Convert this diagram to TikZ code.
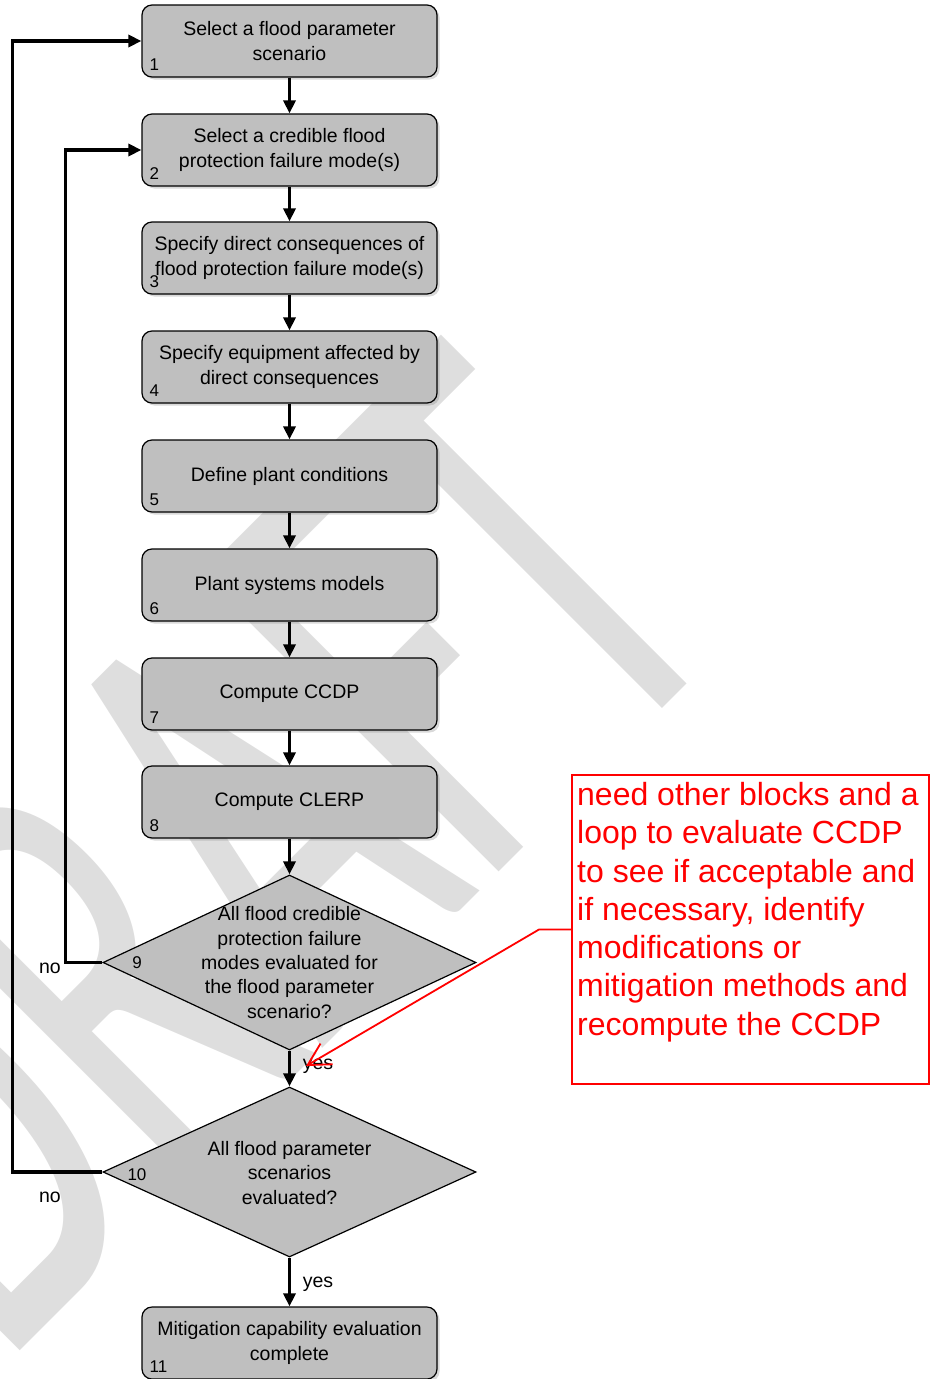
\documentclass[tikz,border=0pt]{standalone}
\usepackage{fontspec}
\setmainfont{Liberation Sans}
\newfontfamily\wmfont{Carlito}
\usetikzlibrary{arrows.meta,shapes.geometric,shadows,calc}
\definecolor{boxgray}{RGB}{191,191,191}
\definecolor{wmgray}{RGB}{222,222,222}
\definecolor{notered}{RGB}{255,0,0}

\begin{document}
\begin{tikzpicture}[x=1pt,y=-1pt,
  stepbox/.style={draw=black, line width=1.2pt, fill=boxgray, rounded corners=10pt,
    minimum width=295pt, minimum height=72pt, inner sep=2pt, align=center,
    font=\fontsize{19.5}{24.5}\selectfont,
    drop shadow={shadow xshift=2.5pt, shadow yshift=-2.5pt, opacity=0.3}},
  decision/.style={draw=black, line width=1.2pt, fill=boxgray, diamond,
    minimum width=373pt, inner sep=0pt},
  dtext/.style={align=center, font=\fontsize{19.5}{24.4}\selectfont, inner sep=0pt},
  num/.style={font=\fontsize{17}{17}\selectfont, inner sep=0pt},
  lbl/.style={font=\fontsize{19.5}{19.5}\selectfont, inner sep=0pt},
  flow/.style={line width=3.2pt, -{Triangle[length=13pt,width=12pt]}},
  loopline/.style={line width=3.6pt, -{Triangle[length=13pt,width=12pt]}},
  callout/.style={draw=notered, line width=1.8pt, -{Straight Barb[length=22pt,width=24pt]}},
  watermark/.style={font=\wmfont\fontsize{390}{390}\selectfont, text=wmgray, inner sep=0pt}
]
\useasboundingbox (0,0) rectangle (932,1379);

% watermark behind the chart
\node[watermark, rotate=45, yscale=1.68, anchor=base east] (wmk) at (742,629) {DRAFT};

% process steps
\node[stepbox] (b1) at (289.5,41)  {Select a flood parameter\\scenario};
\node[stepbox] (b2) at (289.5,150) {Select a credible flood\\protection failure mode(s)};
\node[stepbox] (b3) at (289.5,258) {Specify direct consequences of\\flood protection failure mode(s)};
\node[stepbox] (b4) at (289.5,367) {Specify equipment affected by\\direct consequences};
\node[stepbox] (b5) at (289.5,476) {Define plant conditions};
\node[stepbox] (b6) at (289.5,585) {Plant systems models};
\node[stepbox] (b7) at (289.5,694) {Compute CCDP};
\node[stepbox] (b8) at (289.5,802) {Compute CLERP};
\node[decision, minimum height=175pt] (d9) at (289.5,962.5) {};
\node[dtext] (d9t) at (d9.center) {All flood credible\\protection failure\\modes evaluated for\\the flood parameter\\scenario?};
\node[decision, minimum height=170pt] (d10) at (289.5,1172) {};
\node[dtext] (d10t) at (289.5,1173) {All flood parameter\\scenarios\\evaluated?};
\node[stepbox] (b11) at (289.5,1343) {Mitigation capability evaluation\\complete};

% step numbers
\foreach \b/\n in {b1/1,b2/2,b3/3,b4/4,b5/5,b6/6,b7/7,b8/8,b11/11}
  \node[num, anchor=west] (n\n) at ($(\b.south west)+(8,-13)$) {\n};
\node[num] (n9) at (137,963) {9};
\node[num] (n10) at (137,1175) {10};

% flow arrows
\draw[flow] (b1) -- (b2);
\draw[flow] (b2) -- (b3);
\draw[flow] (b3) -- (b4);
\draw[flow] (b4) -- (b5);
\draw[flow] (b5) -- (b6);
\draw[flow] (b6) -- (b7);
\draw[flow] (b7) -- (b8);
\draw[flow] (b8.south) -- (d9.north);
\draw[flow] (d9.south) -- (d10.north);
\draw[flow] (d10.south) -- (b11.north);
\draw[loopline] (d9.west) -- ++(-37,0) |- (b2.west);
\draw[loopline] (d10.west) -- ++(-90,0) |- (b1.west);

% branch labels
\node[lbl] (no9) at (50,968) {no};
\node[lbl] (no10) at (50,1197) {no};
\node[lbl] (yes9) at (318,1066) {yes};
\node[lbl] (yes10) at (318,1284) {yes};

% review note
\node[draw=notered, line width=2pt, minimum width=357pt, minimum height=309pt, inner sep=0pt] (note) at (750.5,929.5) {};
\node[anchor=north west, inner sep=0pt, align=left, text=notered,
  font=\fontsize{32}{38.3}\selectfont] (notetext) at (577,782)
  {need other blocks and a\\loop to evaluate CCDP\\to see if acceptable and\\if necessary, identify\\modifications or\\mitigation methods and\\recompute the CCDP};
\coordinate (calloutend) at (306,1066);
\draw[callout] (note.west) -- ++(-32,0) -- (calloutend);
\end{tikzpicture}
\end{document}
